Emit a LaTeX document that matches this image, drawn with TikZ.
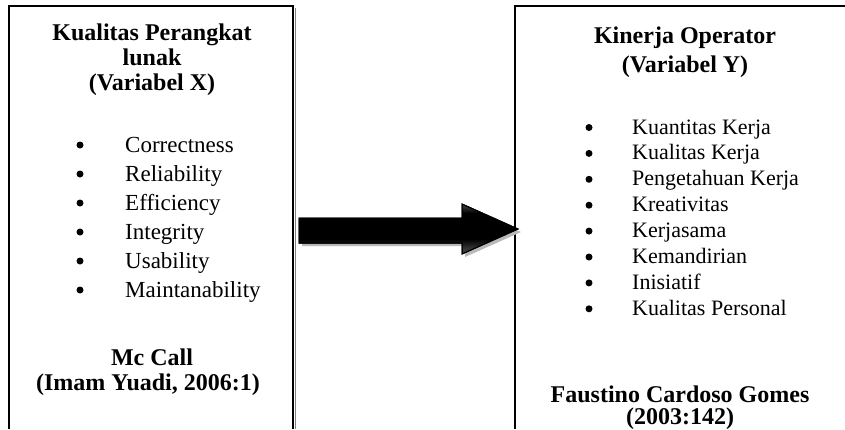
\documentclass[tikz,border=0pt]{standalone}
\usepackage{fontspec}
\setmainfont{Liberation Serif}
\pgfdeclareverticalshading{arrowshade}{100bp}{color(0bp)=(black!70); color(25bp)=(black!70); color(31bp)=(black!80); color(40bp)=(black); color(66bp)=(black); color(75bp)=(black!72); color(100bp)=(black!72)}
\begin{document}
\begin{tikzpicture}[x=1pt,y=-1pt,
  ttl/.style={font=\fontsize{24}{26}\selectfont\bfseries, anchor=base, inner sep=0pt},
  litem/.style={font=\fontsize{23}{25}\selectfont, anchor=base west, inner sep=0pt},
  ritem/.style={font=\fontsize{22}{24}\selectfont, anchor=base west, inner sep=0pt},
  bul/.style={circle, fill=black, inner sep=0pt, minimum size=7pt},
  frame/.style={line width=1.5pt},
  arrowshape/.style={line width=1pt, draw=black, shading=arrowshade}]
\useasboundingbox (0,0) rectangle (845,429);
% boxes
\draw[gray, line width=1pt] (295.5,8) -- (295.5,429);
\draw[frame] (9,429) -- (9,6) -- (293,6) -- (293,429);
\draw[frame] (515,429) -- (515,6) -- (845,6);
% left titles
\node[ttl] (lt1) at (152,40) {Kualitas Perangkat};
\node[ttl] (lt2) at (152,65) {lunak};
\node[ttl] (lt3) at (152,90) {(Variabel X)};
\foreach \t [count=\i] in {Correctness,Reliability,Efficiency,Integrity,Usability,Maintanability}{
  \node[bul] (lb\i) at (80,116+29*\i) {};
  \node[litem] (li\i) at (125,123+29*\i) {\t};
}
\node[ttl] (lf1) at (152,365) {Mc Call};
\node[ttl] (lf2) at (148,390) {(Imam Yuadi, 2006:1)};
% right titles
\node[ttl] (rt1) at (685,43) {Kinerja Operator};
\node[ttl] (rt2) at (685,72) {(Variabel Y)};
\foreach \t [count=\i] in {Kuantitas Kerja,Kualitas Kerja,Pengetahuan Kerja,Kreativitas,Kerjasama,Kemandirian,Inisiatif,Kualitas Personal}{
  \node[bul] (rb\i) at (589,101.6+25.9*\i) {};
  \node[ritem] (ri\i) at (632,108.1+25.9*\i) {\t};
}
\node[ttl] (rf1) at (680,402) {Faustino Cardoso Gomes};
\node[ttl] (rf2) at (680,424) {(2003:142)};
% arrow
\fill[gray!55, shift={(3,3)}] (299,218) -- (462,218) -- (462,204) -- (518,229) -- (462,254) -- (462,243) -- (299,243) -- cycle;
\shade[arrowshape] (299,218) -- (462,218) -- (462,204) -- (518,229) -- (462,254) -- (462,243) -- (299,243) -- cycle;
\draw[line width=1pt] (299,218) -- (462,218) -- (462,204) -- (518,229) -- (462,254) -- (462,243) -- (299,243) -- cycle;
\end{tikzpicture}
\end{document}
